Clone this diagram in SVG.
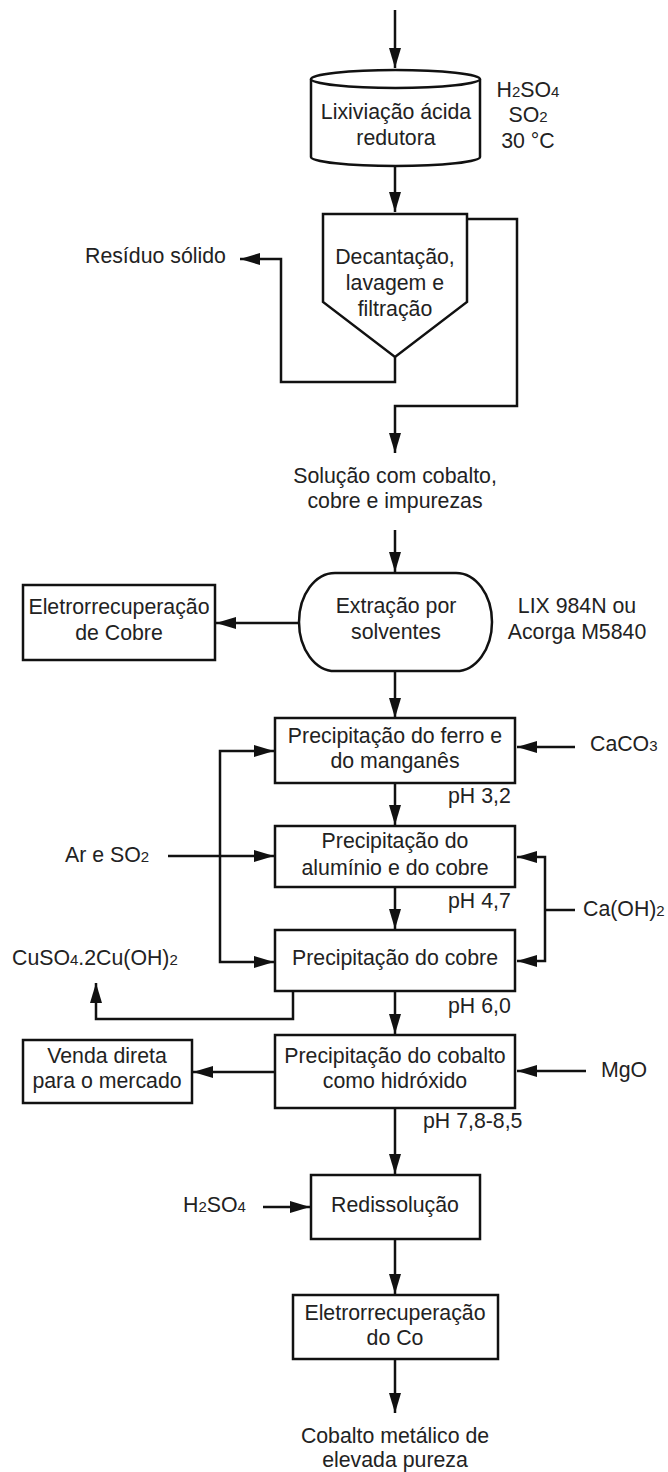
<svg xmlns="http://www.w3.org/2000/svg" width="668" height="1472" viewBox="0 0 668 1472">
  <defs>
    <marker id="arrow" viewBox="0 0 20 12" refX="20" refY="6" markerWidth="20" markerHeight="12" markerUnits="userSpaceOnUse" orient="auto">
      <path d="M0,0 L20,6 L0,12 Z" fill="#111"/>
    </marker>
    <style>
      .shape { fill: #fff; stroke: #111; stroke-width: 2.5; }
      .conn { fill: none; stroke: #111; stroke-width: 2.5; }
      .arr { marker-end: url(#arrow); }
      text { font-family: "Liberation Sans", Arial, sans-serif; font-size: 21.3px; fill: #222; }
      .c { text-anchor: middle; }
      .sub { font-size: 15px; }
    </style>
  </defs>

  <rect width="668" height="1472" fill="#fff"/>

  <!-- connectors -->
  <g id="connectors">
    <path class="conn arr" d="M395,10 V68"/>
    <path class="conn arr" d="M395,166 V212"/>
    <path class="conn arr" d="M467,219 H517 V406 H395 V453"/>
    <path class="conn arr" d="M395,357 V382 H281 V259 H240"/>
    <path class="conn arr" d="M395,530 V572"/>
    <path class="conn arr" d="M299,623 H216"/>
    <path class="conn arr" d="M395,671 V718"/>
    <path class="conn arr" d="M395,783 V825"/>
    <path class="conn arr" d="M395,887 V929"/>
    <path class="conn arr" d="M395,991 V1034"/>
    <path class="conn arr" d="M395,1108 V1174"/>
    <path class="conn arr" d="M395,1239 V1294"/>
    <path class="conn arr" d="M395,1359 V1413"/>
    <!-- reagent feeds -->
    <path class="conn arr" d="M575,747 H517"/>
    <path class="conn arr" d="M168,856 H274"/>
    <path class="conn arr" d="M220,856 V751 H274"/>
    <path class="conn arr" d="M220,856 V962 H274"/>
    <path class="conn" d="M575,910 H545"/>
    <path class="conn arr" d="M545,910 V857 H517"/>
    <path class="conn arr" d="M545,910 V961 H517"/>
    <path class="conn arr" d="M293,991 V1019 H96 V983"/>
    <path class="conn arr" d="M275,1072 H193"/>
    <path class="conn arr" d="M586,1071 H517"/>
    <path class="conn arr" d="M263,1207 H310"/>
  </g>

  <!-- leaching tank -->
  <g id="lixiviacao">
    <path class="shape" d="M311,79 V157 A84.5,9 0 0 0 480,157 V79"/>
    <ellipse class="shape" cx="395.5" cy="79" rx="84.5" ry="9"/>
    <text class="c" x="396" y="119">Lixiviação ácida</text>
    <text class="c" x="396" y="145">redutora</text>
  </g>
  <g id="lixiviacao-reagentes">
    <text class="c" x="528" y="97">H<tspan class="sub">2</tspan>SO<tspan class="sub">4</tspan></text>
    <text class="c" x="528" y="122">SO<tspan class="sub">2</tspan></text>
    <text class="c" x="528" y="148">30 °C</text>
  </g>

  <!-- settler -->
  <g id="decantacao">
    <path class="shape" d="M323,214 H467 V302 L395,357 L323,302 Z"/>
    <text class="c" x="395" y="264">Decantação,</text>
    <text class="c" x="395" y="290">lavagem e</text>
    <text class="c" x="395" y="316">filtração</text>
  </g>
  <g id="residuo">
    <text x="85" y="263">Resíduo sólido</text>
  </g>

  <g id="solucao">
    <text class="c" x="395" y="483">Solução com cobalto,</text>
    <text class="c" x="395" y="508">cobre e impurezas</text>
  </g>

  <!-- solvent extraction -->
  <g id="extracao">
    <path class="shape" d="M335,573 H456 A36,49 0 0 1 492,622 A36,49 0 0 1 456,671 H335 A36,49 0 0 1 299,622 A36,49 0 0 1 335,573 Z"/>
    <text class="c" x="396" y="613">Extração por</text>
    <text class="c" x="396" y="639">solventes</text>
  </g>
  <g id="extratantes">
    <text class="c" x="577" y="613">LIX 984N ou</text>
    <text class="c" x="577" y="639">Acorga M5840</text>
  </g>
  <g id="eletro-cobre">
    <rect class="shape" x="23" y="585" width="192" height="75"/>
    <text class="c" x="119" y="614">Eletrorrecuperação</text>
    <text class="c" x="119" y="640">de Cobre</text>
  </g>

  <!-- precipitation train -->
  <g id="prec-ferro">
    <rect class="shape" x="275" y="718" width="240" height="65"/>
    <text class="c" x="395" y="743">Precipitação do ferro e</text>
    <text class="c" x="395" y="768">do manganês</text>
    <text x="448" y="803">pH 3,2</text>
  </g>
  <g id="caco3">
    <text x="590" y="751">CaCO<tspan class="sub">3</tspan></text>
  </g>
  <g id="prec-aluminio">
    <rect class="shape" x="275" y="826" width="240" height="61"/>
    <text class="c" x="395" y="848">Precipitação do</text>
    <text class="c" x="395" y="875">alumínio e do cobre</text>
    <text x="448" y="908">pH 4,7</text>
  </g>
  <g id="ar-so2">
    <text x="65" y="862">Ar e SO<tspan class="sub">2</tspan></text>
  </g>
  <g id="caoh2">
    <text x="583" y="916">Ca(OH)<tspan class="sub">2</tspan></text>
  </g>
  <g id="prec-cobre">
    <rect class="shape" x="275" y="930" width="240" height="61"/>
    <text class="c" x="395" y="965">Precipitação do cobre</text>
    <text x="448" y="1013">pH 6,0</text>
  </g>
  <g id="cuso4">
    <text x="12" y="965">CuSO<tspan class="sub">4</tspan>.2Cu(OH)<tspan class="sub">2</tspan></text>
  </g>
  <g id="prec-cobalto">
    <rect class="shape" x="275" y="1035" width="240" height="73"/>
    <text class="c" x="395" y="1063">Precipitação do cobalto</text>
    <text class="c" x="395" y="1088">como hidróxido</text>
    <text x="423" y="1128">pH 7,8-8,5</text>
  </g>
  <g id="mgo">
    <text x="601" y="1077">MgO</text>
  </g>
  <g id="venda">
    <rect class="shape" x="23" y="1040" width="169" height="63"/>
    <text class="c" x="107" y="1063">Venda direta</text>
    <text class="c" x="107" y="1088">para o mercado</text>
  </g>

  <!-- cobalt refining -->
  <g id="redissolucao">
    <rect class="shape" x="311" y="1175" width="169" height="64"/>
    <text class="c" x="395" y="1212">Redissolução</text>
  </g>
  <g id="h2so4">
    <text x="183" y="1212">H<tspan class="sub">2</tspan>SO<tspan class="sub">4</tspan></text>
  </g>
  <g id="eletro-cobalto">
    <rect class="shape" x="293" y="1295" width="205" height="64"/>
    <text class="c" x="395" y="1320">Eletrorrecuperação</text>
    <text class="c" x="395" y="1345">do Co</text>
  </g>
  <g id="produto">
    <text class="c" x="395" y="1443">Cobalto metálico de</text>
    <text class="c" x="395" y="1467">elevada pureza</text>
  </g>
</svg>
